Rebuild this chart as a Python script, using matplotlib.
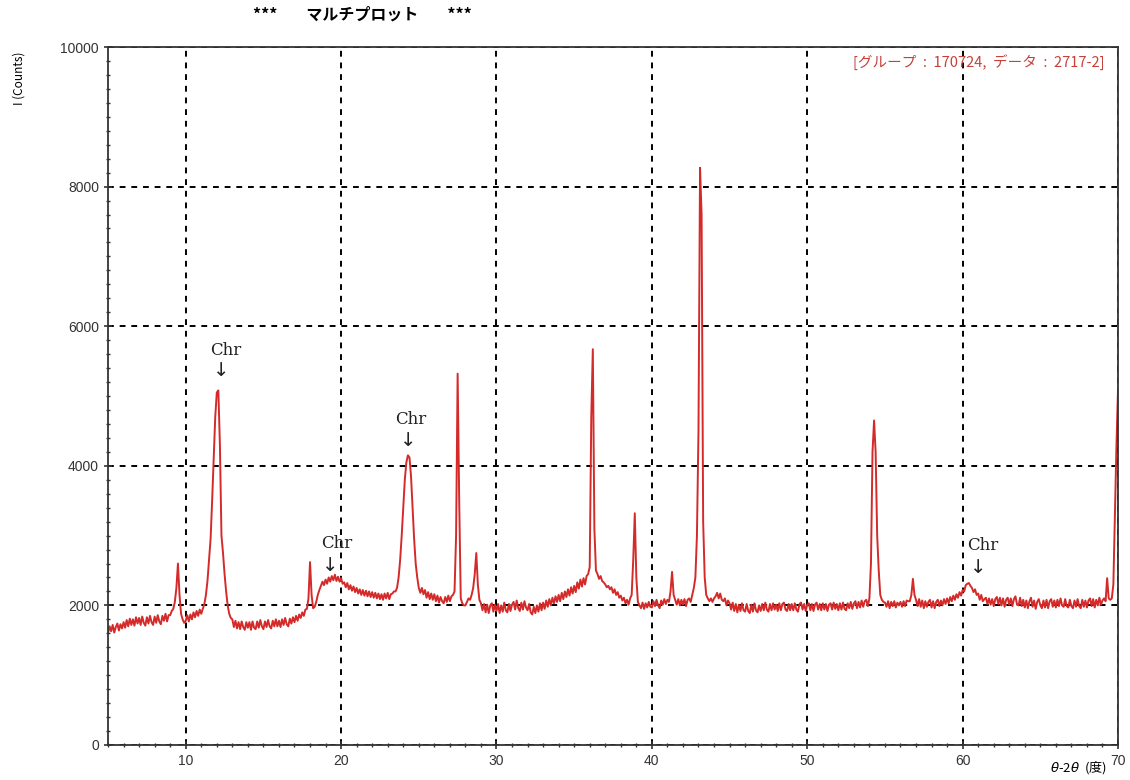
import matplotlib
matplotlib.use('Agg')
import matplotlib.pyplot as plt
from matplotlib.ticker import MultipleLocator
import numpy as np

plt.rcParams['font.family'] = ['Liberation Sans', 'DejaVu Sans']

# measured angles, 0.1 degree steps from 5 to 70
two_theta = np.round(np.linspace(5.0, 70.0, 651), 1)

# intensities, one line per degree
counts = [
    1600, 1700, 1630, 1720, 1610, 1690, 1740, 1640, 1730, 1670,  # 5
    1760, 1680, 1790, 1700, 1810, 1720, 1800, 1710, 1830, 1740,  # 6
    1820, 1720, 1840, 1750, 1710, 1830, 1740, 1850, 1760, 1720,  # 7
    1840, 1750, 1860, 1770, 1730, 1850, 1780, 1880, 1770, 1860,  # 8
    1860, 1920, 1950, 2050, 2250, 2600, 2150, 1880, 1800, 1750,  # 9
    1780, 1860, 1770, 1870, 1800, 1900, 1830, 1920, 1850, 1940,  # 10
    1880, 1950, 2020, 2150, 2350, 2650, 2950, 3500, 4100, 4700,  # 11
    5050, 5080, 4300, 3000, 2750, 2450, 2200, 2000, 1880, 1820,  # 12
    1800, 1690, 1780, 1670, 1760, 1660, 1770, 1690, 1650, 1760,  # 13
    1680, 1760, 1650, 1770, 1680, 1660, 1770, 1680, 1790, 1700,  # 14
    1660, 1770, 1690, 1790, 1700, 1670, 1780, 1700, 1800, 1700,  # 15
    1780, 1690, 1800, 1720, 1820, 1730, 1700, 1810, 1740, 1830,  # 16
    1760, 1850, 1780, 1870, 1820, 1900, 1850, 1940, 1950, 2100,  # 17
    2620, 2150, 1960, 1980, 2050, 2150, 2220, 2280, 2340, 2290,  # 18
    2370, 2310, 2400, 2340, 2420, 2360, 2440, 2350, 2410, 2340,  # 19
    2390, 2310, 2330, 2260, 2320, 2230, 2290, 2210, 2270, 2190,  # 20
    2250, 2170, 2230, 2150, 2220, 2140, 2210, 2130, 2200, 2120,  # 21
    2190, 2110, 2180, 2100, 2170, 2090, 2160, 2080, 2170, 2100,  # 22
    2180, 2090, 2160, 2170, 2200, 2200, 2250, 2400, 2650, 3000,  # 23
    3400, 3800, 4050, 4150, 4120, 3850, 3400, 2950, 2600, 2400,  # 24
    2250, 2180, 2250, 2160, 2220, 2110, 2190, 2090, 2170, 2080,  # 25
    2160, 2060, 2140, 2040, 2120, 2060, 2030, 2120, 2050, 2140,  # 26
    2060, 2130, 2150, 2200, 3000, 5320, 3500, 2100, 2030, 2000,  # 27
    2000, 2050, 2100, 2080, 2150, 2250, 2450, 2750, 2300, 2080,  # 28
    2030, 1930, 2020, 1900, 2010, 1890, 2000, 2030, 1910, 2010,  # 29
    1920, 2020, 1890, 2000, 1910, 2040, 1930, 1900, 2020, 1920,  # 30
    2010, 2050, 1940, 2070, 1960, 1920, 2040, 1940, 2060, 1970,  # 31
    1930, 2020, 1900, 1870, 1980, 1890, 2000, 1910, 2030, 1930,  # 32
    2040, 1950, 2070, 1980, 2090, 2000, 2110, 2030, 2130, 2050,  # 33
    2150, 2060, 2180, 2090, 2200, 2120, 2230, 2140, 2260, 2170,  # 34
    2280, 2190, 2330, 2240, 2370, 2270, 2390, 2300, 2420, 2450,  # 35
    2550, 4700, 5670, 3100, 2500, 2450, 2380, 2420, 2350, 2330,  # 36
    2300, 2260, 2280, 2230, 2260, 2180, 2230, 2150, 2190, 2110,  # 37
    2140, 2070, 2110, 2030, 2080, 2010, 2100, 2150, 2650, 3320,  # 38
    2400, 2050, 2000, 1960, 2040, 1950, 2030, 1970, 2050, 1980,  # 39
    1970, 2060, 1990, 2080, 2000, 1960, 2070, 2010, 2090, 2020,  # 40
    2080, 2050, 2200, 2480, 2150, 2080, 2010, 2090, 2000, 2080,  # 41
    2010, 2090, 1990, 2080, 2100, 2050, 2150, 2250, 2400, 3000,  # 42
    4500, 8270, 7600, 3200, 2400, 2150, 2100, 2060, 2100, 2050,  # 43
    2100, 2130, 2180, 2100, 2170, 2080, 2060, 2100, 2000, 2070,  # 44
    2030, 1940, 2040, 1920, 2020, 1900, 2010, 1920, 2030, 1930,  # 45
    1910, 2020, 1920, 1890, 2010, 1910, 2030, 1930, 1900, 2000,  # 46
    1920, 2020, 1930, 2040, 1940, 1910, 2020, 1930, 2030, 1940,  # 47
    2010, 1920, 2030, 1930, 2020, 2040, 1940, 1920, 2020, 1930,  # 48
    2020, 1930, 2030, 1940, 1910, 2020, 2040, 1940, 2020, 1920,  # 49
    2010, 2030, 1930, 2020, 1920, 2010, 2040, 1940, 2020, 1930,  # 50
    2030, 1940, 2020, 1920, 2010, 2030, 1940, 2040, 1950, 2020,  # 51
    1930, 2030, 1940, 2040, 1950, 1930, 2030, 1960, 2050, 1950,  # 52
    2030, 2060, 1960, 2050, 1970, 2070, 1980, 2060, 2080, 1990,  # 53
    2100, 2600, 4200, 4650, 4200, 3000, 2500, 2150, 2080, 2050,  # 54
    2040, 1980, 2060, 1960, 2050, 1990, 2060, 1970, 2040, 2000,  # 55
    2050, 1980, 2060, 1990, 2070, 2060, 2060, 2150, 2380, 2150,  # 56
    2080, 1990, 2090, 1980, 2070, 1960, 2060, 1980, 2050, 2080,  # 57
    1970, 2060, 1960, 2050, 2080, 1990, 2070, 2000, 2090, 2020,  # 58
    2100, 2030, 2120, 2060, 2140, 2080, 2160, 2110, 2190, 2140,  # 59
    2220, 2200, 2290, 2310, 2320, 2280, 2250, 2190, 2230, 2150,  # 60
    2170, 2080, 2150, 2060, 2090, 2110, 2020, 2100, 2010, 2090,  # 61
    1990, 2090, 2120, 2020, 2110, 2000, 2100, 1980, 2080, 2110,  # 62
    2010, 2100, 1990, 2090, 2130, 2010, 2000, 2110, 1990, 2080,  # 63
    1970, 2070, 1960, 2060, 2110, 1980, 2070, 1950, 2050, 2090,  # 64
    2000, 1960, 2070, 1970, 2080, 1960, 2060, 2090, 1980, 2070,  # 65
    1970, 2080, 1990, 2100, 2000, 1980, 2090, 1990, 1970, 2080,  # 66
    1990, 1960, 2070, 1980, 2090, 1990, 1960, 2080, 1980, 2070,  # 67
    1970, 2070, 2100, 1990, 2090, 1970, 2080, 2000, 2110, 2010,  # 68
    2070, 2100, 2060, 2390, 2100, 2080, 2100, 2300, 3300, 4300,  # 69
    5100,                                                        # 70
]

# Chr markers: label position and arrow position (2theta, counts)
chr_label_x = [12.6, 19.7, 24.5, 61.3]
chr_label_y = [5650, 2890, 4670, 2860]
chr_arrow_x = [12.3, 19.3, 24.3, 61.0]
chr_arrow_y = [5360, 2570, 4360, 2550]

fig = plt.figure(figsize=(11.3, 7.8), dpi=100)
ax = fig.add_axes([0.0956, 0.0449, 0.8938, 0.8948])

ax.plot(two_theta, counts, color='#d42a2a', lw=1.4)

ax.set_xlim(5, 70)
ax.set_ylim(0, 10000)
ax.xaxis.set_major_locator(MultipleLocator(10))
ax.xaxis.set_minor_locator(MultipleLocator(1))
ax.yaxis.set_major_locator(MultipleLocator(2000))
ax.yaxis.set_minor_locator(MultipleLocator(200))
ax.tick_params(which='major', direction='inout', length=6, width=1.2, labelsize=10, colors='#333333')
ax.tick_params(which='minor', direction='inout', length=3, width=1.0, color='#333333')
for s in ax.spines.values():
    s.set_linewidth(1.3)
    s.set_color('#333333')

ax.grid(True, which='major', color='black', linestyle=(0, (3, 3)), lw=1.4)

for lx, ly, axx, ayy in zip(chr_label_x, chr_label_y, chr_arrow_x, chr_arrow_y):
    ax.text(lx, ly, 'Chr', family='DejaVu Serif', fontsize=12, ha='center', va='center', color='#222222')
    ax.text(axx, ayy, '↓', family='DejaVu Sans', fontsize=14, ha='center', va='center', color='#222222')

jp = ['Noto Sans CJK JP', 'DejaVu Sans']
ax.text(0.987, 0.99, '[グループ  :  170724,  データ  :  2717-2]', transform=ax.transAxes,
        ha='right', va='top', fontsize=10.5, color='#c8403a', family=jp)

fig.text(0.321, 0.981, '***        マルチプロット        ***', ha='center', va='center',
         fontsize=11.5, fontweight='bold', family=jp)
fig.text(0.017, 0.9, 'I (Counts)', rotation=90, ha='center', va='center', fontsize=8.5, family=jp)
fig.text(0.98, 0.016, r'$\theta$-2$\theta$  (度)', ha='right', va='center', fontsize=9.5, family=jp)

fig.savefig('out.png', dpi=100)
